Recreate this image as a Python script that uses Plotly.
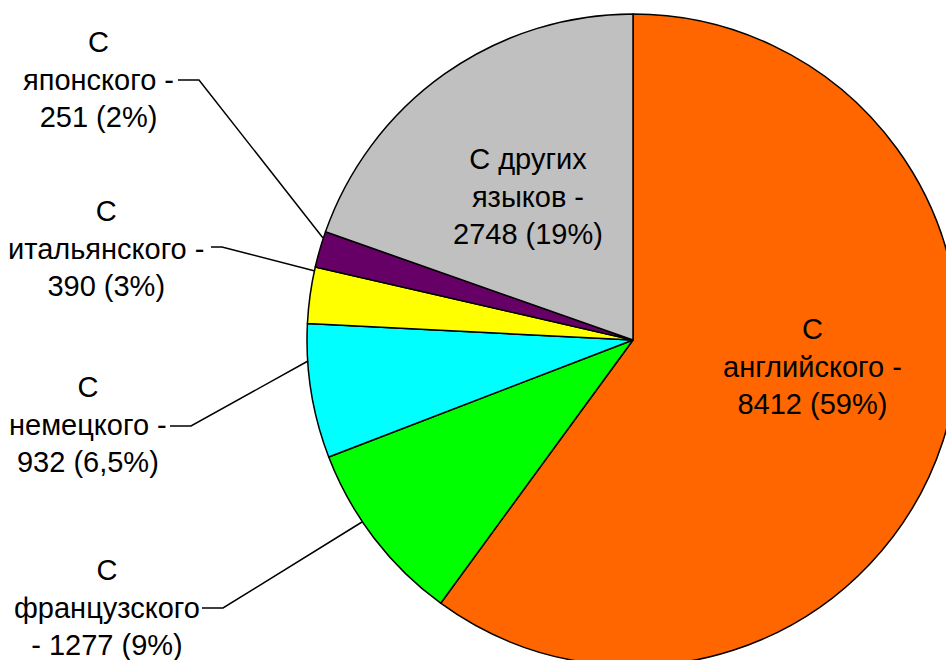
import plotly.graph_objects as go

# Данные: переводы с разных языков
languages = ["английского", "французского", "немецкого", "итальянского", "японского", "других языков"]
values = [8412, 1277, 932, 390, 251, 2748]
labels_text = [
    "С<br>английского -<br>8412 (59%)",
    "С<br>французского<br>- 1277 (9%)",
    "С<br>немецкого -<br>932 (6,5%)",
    "С<br>итальянского -<br>390 (3%)",
    "С<br>японского -<br>251 (2%)",
    "С других<br>языков -<br>2748 (19%)",
]
colors = ["#FF6600", "#00FF00", "#00FFFF", "#FFFF00", "#660066", "#C0C0C0"]

# Размер холста больше окна, чтобы круг обрезался как в оригинале
W, H = 1000, 700


def px(x):
    return x / W


def py(y):
    return 1 - y / H


# центр круга и радиус (в пикселях)
cx, cy, r = 633, 340, 326

fig = go.Figure()
fig.add_trace(
    go.Pie(
        labels=languages,
        values=values,
        sort=False,
        direction="clockwise",
        rotation=0,
        marker=dict(colors=colors, line=dict(color="black", width=1.5)),
        textinfo="none",
        hoverinfo="label+value+percent",
        showlegend=False,
        domain=dict(x=[px(cx - r), px(cx + r)], y=[py(cy + r), py(cy - r)]),
    )
)

# Положения подписей
label_pos = [(812, 366), (107, 607), (88, 425), (106, 248), (98, 79), (528, 196)]
for txt, (x, y) in zip(labels_text, label_pos):
    fig.add_annotation(
        x=px(x), y=py(y), xref="paper", yref="paper",
        text=txt, showarrow=False, align="center",
        xanchor="center", yanchor="middle",
        font=dict(family="Liberation Sans, Arial", size=29, color="black"),
    )

# Линии-выноски для маленьких секторов
leaders = [
    [(202, 608), (223, 608), (362, 522)],
    [(170, 426), (191, 426), (308, 361)],
    [(211, 247), (222, 247), (315, 271)],
    [(178, 80), (199, 80), (323, 238)],
]
for pts in leaders:
    path = "M " + " L ".join(f"{px(x)},{py(y)}" for x, y in pts)
    fig.add_shape(type="path", path=path, xref="paper", yref="paper",
                  line=dict(color="black", width=1.5))

fig.update_layout(
    width=W, height=H,
    margin=dict(l=0, r=0, t=0, b=0),
    paper_bgcolor="white",
    plot_bgcolor="white",
)

fig.write_html(
    "out.html",
    post_script="document.body.style.margin='0';document.body.style.overflow='hidden';"
                "document.documentElement.style.overflow='hidden';",
)
